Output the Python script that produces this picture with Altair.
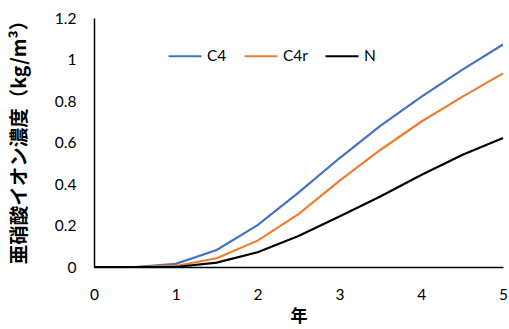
import altair as alt
import pandas as pd

years = [0, 0.5, 1, 1.5, 2, 2.5, 3, 3.5, 4, 4.5, 5]
c4 = [0, 0, 0.015, 0.082, 0.202, 0.358, 0.524, 0.68, 0.82, 0.95, 1.072]
c4r = [0, 0, 0.005, 0.042, 0.127, 0.255, 0.415, 0.564, 0.70, 0.82, 0.933]
n = [0, 0, 0, 0.021, 0.071, 0.149, 0.243, 0.34, 0.443, 0.54, 0.622]
series = ["C4", "C4r", "N"]
colors = ["#4472C4", "#ED7D31", "#000000"]
y_ticks = [0, 0.2, 0.4, 0.6, 0.8, 1.0, 1.2]
x_ticks = [0, 1, 2, 3, 4, 5]

rows = []
for name, vals in zip(series, [c4, c4r, n]):
    for x, v in zip(years, vals):
        rows.append({"年": x, "value": v, "series": name})
df = pd.DataFrame(rows)

label_font = "Lato"
cjk_font = "Noto Sans CJK JP"

chart = alt.Chart(df).mark_line(strokeWidth=2.2).encode(
    x=alt.X("年:Q", scale=alt.Scale(domain=[0, 5], nice=False),
            axis=alt.Axis(values=x_ticks, title="年", grid=False, ticks=False,
                          labelPadding=20, labelFontSize=15.5, labelFont=label_font,
                          labelColor="#000", domainColor="#000", domainWidth=1.5,
                          titleFont=cjk_font, titleFontSize=17, titleFontWeight="bold",
                          titleColor="#000", titlePadding=6, labelFlush=False)),
    y=alt.Y("value:Q", scale=alt.Scale(domain=[0, 1.2], nice=False),
            axis=alt.Axis(values=y_ticks, format="~g", title="亜硝酸イオン濃度（kg/m³）",
                          grid=False, ticks=False, labelPadding=18, labelFontSize=15.5,
                          labelFont=label_font, labelColor="#000", domainColor="#000",
                          domainWidth=1.5, titleFont=cjk_font, titleFontSize=19.5,
                          titleFontWeight="bold", titleColor="#000", titlePadding=25,
                          titleY=119, labelFlush=False)),
    color=alt.Color("series:N", scale=alt.Scale(domain=series, range=colors),
                    sort=series,
                    legend=alt.Legend(title=None, orient="none", direction="horizontal",
                                      legendX=73, legendY=20, symbolType="stroke",
                                      symbolSize=1089, symbolStrokeWidth=2.2,
                                      labelFontSize=15.5, labelFont=label_font,
                                      labelColor="#000", labelOffset=4,
                                      columnPadding=13)),
).properties(
    width=409, height=249,
    autosize=alt.AutoSizeParams(type="none"),
    padding={"left": 94, "top": 18, "right": 6, "bottom": 62},
).configure_view(stroke=None)

chart.save("out.html", embed_options={"renderer": "svg", "actions": False})
